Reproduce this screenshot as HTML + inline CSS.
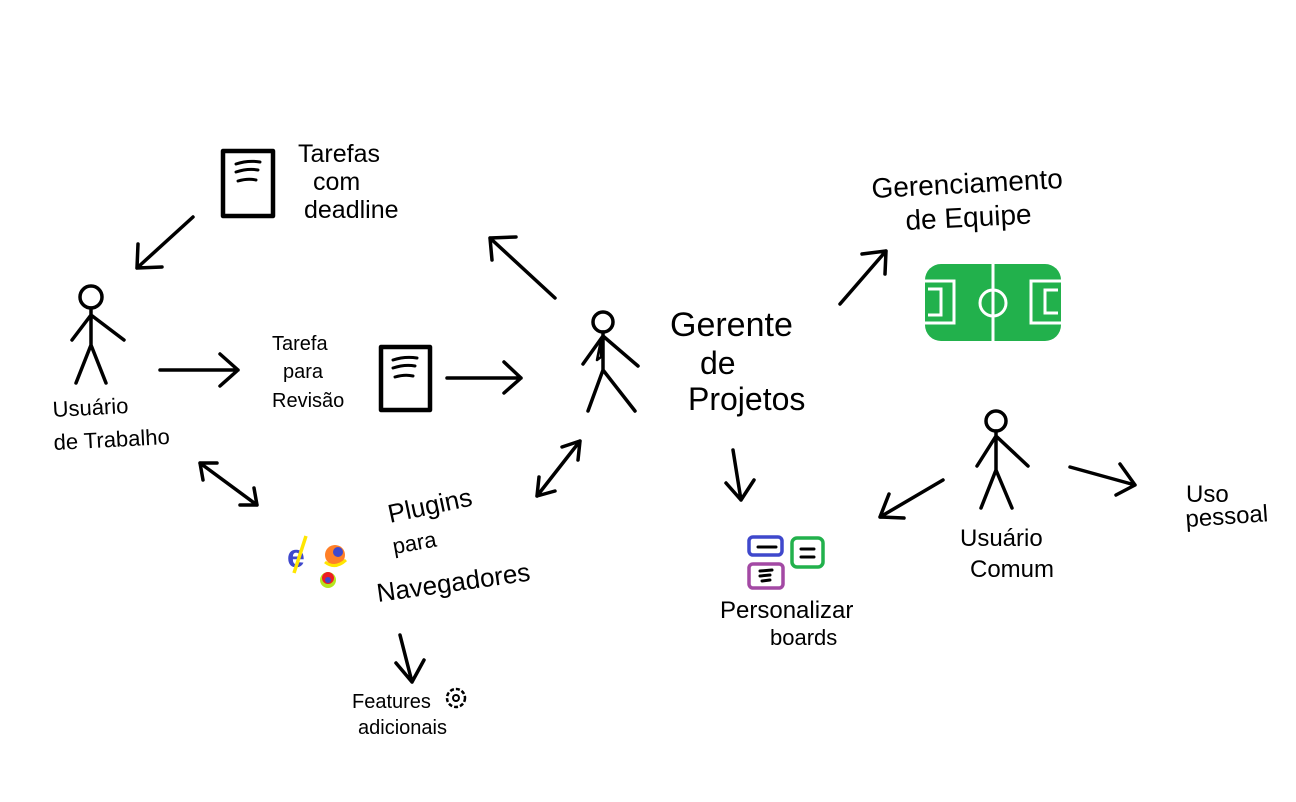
<!DOCTYPE html>
<html><head><meta charset="utf-8"><style>
html,body{margin:0;padding:0;background:#fff;}
svg{display:block}
text{font-family:"Liberation Sans",sans-serif;fill:#000;}
</style></head><body>
<svg width="1296" height="802" viewBox="0 0 1296 802" xmlns="http://www.w3.org/2000/svg">
<g stroke="#000" stroke-width="3.5" fill="none" stroke-linecap="round" stroke-linejoin="round">
<rect x="223" y="151" width="50" height="65" stroke-width="4.5"/>
<path d="M236 164 Q248 160 260 162 M236 172 Q248 168 258 170 M238 181 Q248 178 256 180" stroke-width="3"/>
<rect x="381" y="347" width="49" height="63" stroke-width="4.5"/>
<path d="M393 360 Q405 356 417 358 M393 368 Q405 364 415 366 M395 377 Q405 374 413 376" stroke-width="3"/>
<path d="M193 217 L137 268 M137 268 L138 244 M137 268 L162 267"/>
<path d="M160 370 L238 370 M238 370 L220 354 M238 370 L220 386"/>
<path d="M447 378 L521 378 M521 378 L504 362 M521 378 L504 393"/>
<path d="M555 298 L490 238 M490 238 L492 260 M490 238 L516 237"/>
<path d="M840 304 L886 251 M886 251 L862 254 M886 251 L885 274"/>
<path d="M733 450 L741 500 M741 500 L726 483 M741 500 L754 480"/>
<path d="M943 480 L880 517 M880 517 L889 494 M880 517 L904 518"/>
<path d="M1070 467 L1135 485 M1135 485 L1120 464 M1135 485 L1116 495"/>
<path d="M200 463 L257 505 M200 463 L203 480 M200 463 L217 463 M257 505 L254 488 M257 505 L240 505"/>
<path d="M580 441 L537 496 M580 441 L562 447 M580 441 L578 460 M537 496 L555 491 M537 496 L539 477"/>
<path d="M400 635 L412 682 M412 682 L396 663 M412 682 L424 660"/>
<circle cx="91" cy="297" r="11"/>
<path d="M91 308 L91 345 M91 315 L72 340 M91 315 L124 340 M91 345 L76 383 M91 345 L106 383"/>
<circle cx="603" cy="322" r="10"/>
<path d="M603 332 L603 370 M603 336 L583 364 M603 336 L638 366 M603 370 L588 411 M603 370 L635 411"/>
<path d="M601 340 L597 360 L601 357 Z" stroke-width="2.5"/>
<circle cx="996" cy="421" r="10"/>
<path d="M996 431 L996 470 M996 436 L977 466 M996 436 L1028 466 M996 470 L981 508 M996 470 L1012 508"/>
</g>
<rect x="925" y="264" width="136" height="77" rx="16" fill="#22b14c"/>
<g stroke="#fff" stroke-width="3" fill="none">
<line x1="993" y1="264" x2="993" y2="341"/>
<circle cx="993" cy="303" r="13"/>
<path d="M925 281 L954 281 L954 323 L925 323"/>
<path d="M928 289 L941 289 L941 315 L928 315"/>
<path d="M1061 281 L1031 281 L1031 323 L1061 323"/>
<path d="M1058 290 L1045 290 L1045 313 L1058 313"/>
</g>
<g fill="none" stroke-width="3.5">
<rect x="749" y="537" width="33" height="18" rx="4" stroke="#3f48cc"/>
<rect x="792" y="538" width="31" height="29" rx="5" stroke="#22b14c"/>
<rect x="749" y="564" width="34" height="24" rx="4" stroke="#a349a4"/>
</g>
<g stroke="#000" stroke-width="3" stroke-linecap="round">
<line x1="758" y1="547" x2="776" y2="547"/>
<line x1="801" y1="549" x2="814" y2="549"/><line x1="801" y1="557" x2="814" y2="557"/>
<path d="M760 571 L772 570 M760 576 L770 575 M762 581 L770 580" fill="none"/>
</g>
<text x="287" y="567" font-size="32" font-weight="bold" style="fill:#3f48cc">e</text>
<line x1="306" y1="536" x2="294" y2="573" stroke="#ffe600" stroke-width="3.5"/>
<circle cx="335" cy="555" r="10" fill="#ff7f27"/><circle cx="338" cy="552" r="5" fill="#3f48cc"/>
<path d="M325 562 Q335 570 346 560" stroke="#ffe600" stroke-width="3" fill="none"/>
<circle cx="328" cy="580" r="8" fill="#b5e61d"/><circle cx="328" cy="578" r="6" fill="#ed1c24"/><circle cx="328" cy="580" r="3" fill="#3f48cc"/>
<circle cx="456" cy="698" r="9" fill="none" stroke="#000" stroke-width="2.5" stroke-dasharray="4 2"/>
<circle cx="456" cy="698" r="3" fill="none" stroke="#000" stroke-width="2"/>
<g font-size="25">
<text x="298" y="162">Tarefas</text>
<text x="313" y="190">com</text>
<text x="304" y="218">deadline</text>
<text x="272" y="350" font-size="20">Tarefa</text>
<text x="283" y="378" font-size="20">para</text>
<text x="272" y="407" font-size="20">Revisão</text>
<text x="53" y="417" font-size="22" transform="rotate(-3 53 417)">Usuário</text>
<text x="54" y="450" font-size="22" transform="rotate(-3 54 450)">de Trabalho</text>
<text x="670" y="336" font-size="34">Gerente</text>
<text x="700" y="374" font-size="32">de</text>
<text x="688" y="410" font-size="32">Projetos</text>
<text x="872" y="198" font-size="28" transform="rotate(-3 872 198)">Gerenciamento</text>
<text x="906" y="230" font-size="28" transform="rotate(-3 906 230)">de Equipe</text>
<text x="960" y="546" font-size="24">Usuário</text>
<text x="970" y="577" font-size="24">Comum</text>
<text x="1186" y="502" font-size="24">Uso</text>
<text x="1186" y="527" font-size="24" transform="rotate(-4 1186 527)">pessoal</text>
<text x="720" y="618" font-size="24">Personalizar</text>
<text x="770" y="645" font-size="22">boards</text>
<text x="390" y="523" font-size="26" transform="rotate(-12 390 523)">Plugins</text>
<text x="394" y="554" font-size="22" transform="rotate(-10 394 554)">para</text>
<text x="378" y="602" font-size="26" transform="rotate(-8 378 602)">Navegadores</text>
<text x="352" y="708" font-size="20">Features</text>
<text x="358" y="734" font-size="20">adicionais</text>
</g>
</svg>
</body></html>
